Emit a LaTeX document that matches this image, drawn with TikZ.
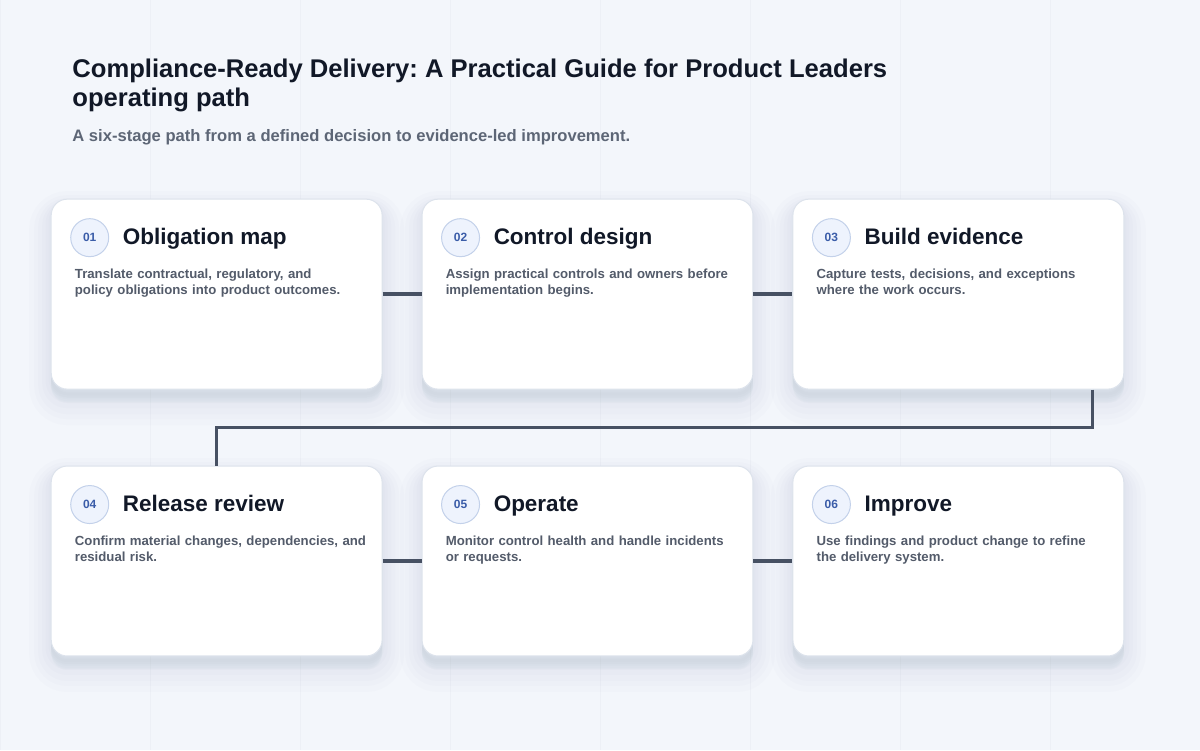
\documentclass[tikz,border=0pt]{standalone}
\usepackage{fontspec}
\setmainfont{Liberation Sans}
\usepackage{xcolor}
\usetikzlibrary{positioning, calc}
\frenchspacing

\definecolor{pagebg}{HTML}{F3F6FB}
\definecolor{gridln}{HTML}{EDF0F6}
\definecolor{cardedge}{HTML}{DDE3EC}
\definecolor{shadowc}{HTML}{5A6A8C}
\definecolor{linkgray}{HTML}{475163}
\definecolor{numfill}{HTML}{EEF3FD}
\definecolor{numedge}{HTML}{C3D1EA}
\definecolor{numtext}{HTML}{3A5CA8}
\definecolor{headtext}{HTML}{111827}
\definecolor{bodytext}{HTML}{535B6A}
\definecolor{subtext}{HTML}{5D6676}

\begin{document}
\begin{tikzpicture}[x=1pt, y=-1pt,
        shade layer/.style 2 args={preaction={draw=shadowc, fill=shadowc, line width=#1,
            opacity=0.016, transform canvas={yshift=#2}}},
        card/.style={draw=cardedge, line width=1pt, fill=white, rounded corners=16pt,
            minimum width=331pt, minimum height=190pt, inner sep=0pt,
            shade layer={44pt}{-14pt}, shade layer={34pt}{-13pt}, shade layer={26pt}{-12pt},
            shade layer={18pt}{-10pt}, shade layer={11pt}{-8pt}, shade layer={5pt}{-6pt}},
        numdot/.style={circle, draw=numedge, line width=1pt, fill=numfill,
            minimum size=38pt, inner sep=0pt, text=numtext,
            font=\fontsize{12}{13}\selectfont\bfseries},
        stagehead/.style={anchor=base west, inner sep=0pt, text=headtext,
            font=\fontsize{22.5}{26}\selectfont\bfseries},
        stagetext/.style={anchor=base west, inner sep=0pt, text=bodytext, text width=305pt,
            align=left, font=\fontsize{13.2}{15.5}\selectfont\bfseries},
        link/.style={draw=linkgray, line width=3.5pt}
    ]
    % page and faint grid
    \fill[pagebg] (0,0) rectangle (1200,750);
    \draw[gridln, line width=0.5pt, xstep=150, ystep=125] (0,0) grid (1200,750);
    \useasboundingbox (0,0) rectangle (1200,750);

    % heading
    \node[anchor=base west, inner sep=0pt, text=headtext, font=\fontsize{25.6}{29}\selectfont\bfseries]
        (title) at (72,77) {Compliance-Ready Delivery: A Practical Guide for Product Leaders};
    \node[anchor=base west, inner sep=0pt, text=headtext, font=\fontsize{25.6}{29}\selectfont\bfseries]
        (title2) at (72,106) {operating path};
    \node[anchor=base west, inner sep=0pt, text=subtext, font=\fontsize{16.6}{19}\selectfont\bfseries]
        (sub) at (72,141) {A six-stage path from a defined decision to evidence-led improvement.};

    % cards
    \node[card] (c1) at (216.5,294) {};
    \node[card] (c2) at (587.5,294) {};
    \node[card] (c3) at (958.5,294) {};
    \node[card] (c4) at (216.5,561) {};
    \node[card] (c5) at (587.5,561) {};
    \node[card] (c6) at (958.5,561) {};

    % connectors
    \draw[link] (c1.east) -- (c2.west);
    \draw[link] (c2.east) -- (c3.west);
    \draw[link] ($(c3.south east)+(-32,0)$) -- ++(0,38) coordinate (bend) -| (c4.north);
    \draw[link] (c4.east) -- (c5.west);
    \draw[link] (c5.east) -- (c6.west);

    % stage 01
    \node[numdot] (n1) at ($(c1.north west)+(39,39)$) {01};
    \node[stagehead] (h1) at ($(c1.north west)+(72,46)$) {Obligation map};
    \node[stagetext] (d1) at ($(c1.north west)+(24,80)$)
        {Translate contractual, regulatory, and\\policy obligations into product outcomes.};

    % stage 02
    \node[numdot] (n2) at ($(c2.north west)+(39,39)$) {02};
    \node[stagehead] (h2) at ($(c2.north west)+(72,46)$) {Control design};
    \node[stagetext] (d2) at ($(c2.north west)+(24,80)$)
        {Assign practical controls and owners before\\implementation begins.};

    % stage 03
    \node[numdot] (n3) at ($(c3.north west)+(39,39)$) {03};
    \node[stagehead] (h3) at ($(c3.north west)+(72,46)$) {Build evidence};
    \node[stagetext] (d3) at ($(c3.north west)+(24,80)$)
        {Capture tests, decisions, and exceptions\\where the work occurs.};

    % stage 04
    \node[numdot] (n4) at ($(c4.north west)+(39,39)$) {04};
    \node[stagehead] (h4) at ($(c4.north west)+(72,46)$) {Release review};
    \node[stagetext] (d4) at ($(c4.north west)+(24,80)$)
        {Confirm material changes, dependencies, and\\residual risk.};

    % stage 05
    \node[numdot] (n5) at ($(c5.north west)+(39,39)$) {05};
    \node[stagehead] (h5) at ($(c5.north west)+(72,46)$) {Operate};
    \node[stagetext] (d5) at ($(c5.north west)+(24,80)$)
        {Monitor control health and handle incidents\\or requests.};

    % stage 06
    \node[numdot] (n6) at ($(c6.north west)+(39,39)$) {06};
    \node[stagehead] (h6) at ($(c6.north west)+(72,46)$) {Improve};
    \node[stagetext] (d6) at ($(c6.north west)+(24,80)$)
        {Use findings and product change to refine\\the delivery system.};
\end{tikzpicture}
\end{document}
